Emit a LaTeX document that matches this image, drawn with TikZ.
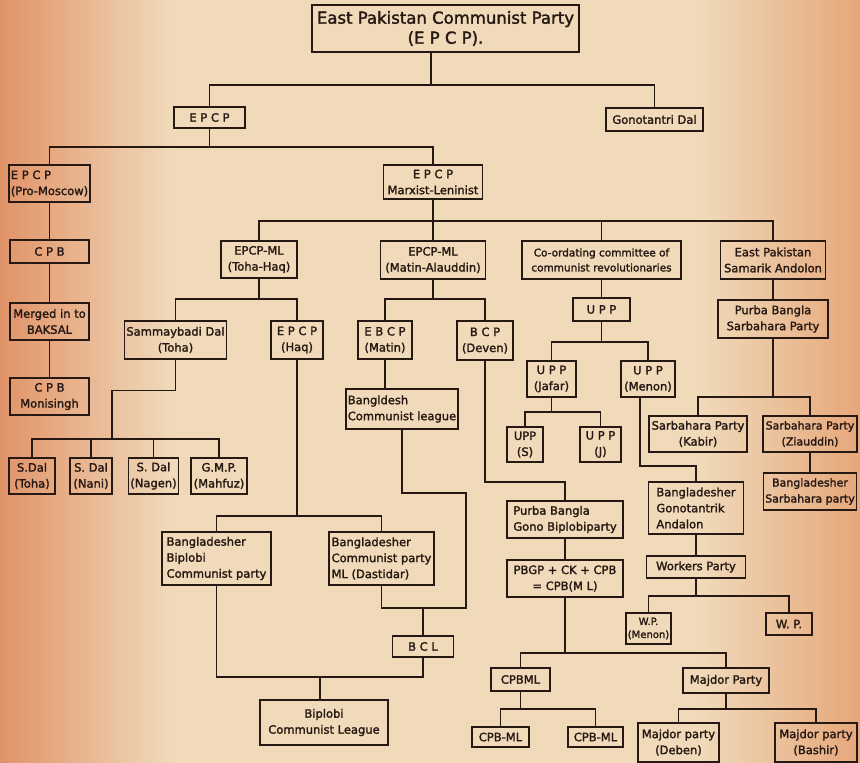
\documentclass[tikz,border=0pt]{standalone}
\usepackage{fontspec}
\setmainfont{DejaVu Sans}[BoldFont={DejaVu Sans}, BoldFeatures={FakeBold=1.8}]
\usepackage{tikz}
\definecolor{ink}{RGB}{38,24,18}
\definecolor{paperL}{RGB}{224,140,96}
\definecolor{paperM}{RGB}{240,218,186}
\definecolor{paperR}{RGB}{230,162,116}
\definecolor{paperBand}{RGB}{224,152,114}

\begin{document}
\begin{tikzpicture}[x=1pt, y=-1pt,
    party/.style={draw=ink, line width=1.4pt, text=ink, align=center, inner sep=2pt,
      font=\bfseries\fontsize{11.5}{16}\selectfont},
    link/.style={draw=ink, line width=1.4pt}]
    % PAPER
    \fill[paperM] (0,0) rectangle (860,763);
    \shade[top color=paperM, middle color=paperBand, bottom color=paperM, opacity=0.85] (0,270) rectangle (860,620);
    \shade[left color=paperL, right color=paperM, opacity=0.9] (0,0) rectangle (170,763);
    \shade[left color=paperM, right color=paperR, opacity=0.9] (700,0) rectangle (860,763);
    \useasboundingbox (0,0) rectangle (860,763);

    % TOP: the parent party and its first split
    \node[party, minimum width=267, minimum height=47, font=\bfseries\fontsize{16.5}{20}\selectfont] (epcpTop) at (445.5,28.5) {East Pakistan Communist Party\\(E P C P).};
    \node[party, minimum width=71, minimum height=21] (epcp) at (209.5,117.5) {E P C P};
    \node[party, minimum width=97, minimum height=23] (gono) at (654.5,119.5) {Gonotantri Dal};
    \node[party, minimum width=79, minimum height=37, align=left] (proMoscow) at (49.5,183.5) {E P C P\\(Pro-Moscow)};
    \node[party, minimum width=99, minimum height=34] (ml) at (433,182) {E P C P\\Marxist-Leninist};

    % LEFT: pro-Moscow line
    \node[party, minimum width=79, minimum height=23] (cpb) at (49.5,251.5) {C P B};
    \node[party, minimum width=79, minimum height=37] (baksal) at (49.5,321.5) {Merged in to\\BAKSAL};
    \node[party, minimum width=79, minimum height=37] (moni) at (49.5,396.5) {C P B\\Monisingh};

    % MIDDLE: Marxist-Leninist groups
    \node[party, minimum width=76, minimum height=37] (tohaHaq) at (259,259.5) {EPCP-ML\\(Toha-Haq)};
    \node[party, minimum width=105, minimum height=38] (matinAl) at (433,260) {EPCP-ML\\(Matin-Alauddin)};
    \node[party, minimum width=159, minimum height=38, font=\bfseries\fontsize{10.5}{15}\selectfont] (ccr) at (601.5,260) {Co-ordating committee of\\communist revolutionaries};
    \node[party, minimum width=105, minimum height=38] (samarik) at (773,260) {East Pakistan\\Samarik Andolon};

    \node[party, minimum width=101, minimum height=38] (samm) at (175.5,340) {Sammaybadi Dal\\(Toha)};
    \node[party, minimum width=52, minimum height=38] (haq) at (297,340) {E P C P\\(Haq)};
    \node[party, minimum width=54, minimum height=38] (ebcp) at (385,340) {E B C P\\(Matin)};
    \node[party, minimum width=56, minimum height=39] (bcp) at (485,340.5) {B C P\\(Deven)};
    \node[party, minimum width=57, minimum height=23] (upp) at (601.5,309.5) {U P P};
    \node[party, minimum width=110, minimum height=38] (pbsp) at (773,319) {Purba Bangla\\Sarbahara Party};

    \node[party, minimum width=49, minimum height=36] (jafar) at (551.5,379) {U P P\\(Jafar)};
    \node[party, minimum width=54, minimum height=36] (menon) at (648,379) {U P P\\(Menon)};
    \node[party, minimum width=110, minimum height=40, align=left] (bcLeague) at (402,409) {Bangldesh\\Communist league};
    \node[party, minimum width=98, minimum height=36] (kabir) at (698,434) {Sarbahara Party\\(Kabir)};
    \node[party, minimum width=94, minimum height=36, font=\bfseries\fontsize{11}{16}\selectfont] (zia) at (810,434) {Sarbahara Party\\(Ziauddin)};
    \node[party, minimum width=36, minimum height=35] (uppS) at (525,444.5) {UPP\\(S)};
    \node[party, minimum width=41, minimum height=35] (uppJ) at (600.5,444.5) {U P P\\(J)};

    % Samyabadi splits
    \node[party, minimum width=46, minimum height=36] (sdToha) at (32,476) {S.Dal\\(Toha)};
    \node[party, minimum width=42, minimum height=36] (sdNani) at (91,476) {S. Dal\\(Nani)};
    \node[party, minimum width=47, minimum height=36] (sdNagen) at (153.5,476) {S. Dal\\(Nagen)};
    \node[party, minimum width=56, minimum height=36] (gmp) at (219,476) {G.M.P.\\(Mahfuz)};

    % LOWER groups
    \node[party, minimum width=92, minimum height=37, font=\bfseries\fontsize{11}{16}\selectfont] (bsp) at (810,491.5) {Bangladesher\\Sarbahara party};
    \node[party, minimum width=95, minimum height=52, align=left] (bga) at (696,508) {Bangladesher\\Gonotantrik\\Andalon};
    \node[party, minimum width=116, minimum height=37, align=left] (pbg) at (565,519.5) {Purba Bangla\\Gono Biplobiparty};
    \node[party, minimum width=109, minimum height=53, align=left] (bbcp) at (216.5,558.5) {Bangladesher\\Biplobi\\Communist party};
    \node[party, minimum width=105, minimum height=53, align=left] (dast) at (381.5,558.5) {Bangladesher\\Communist party\\ML (Dastidar)};
    \node[party, minimum width=99, minimum height=22] (workers) at (696,567) {Workers Party};
    \node[party, minimum width=116, minimum height=37] (merger) at (565,578.5) {PBGP + CK + CPB\\= CPB(M L)};
    \node[party, minimum width=45, minimum height=31, font=\bfseries\fontsize{10}{13}\selectfont] (wpMenon) at (648.5,628.5) {W.P.\\(Menon)};
    \node[party, minimum width=46, minimum height=22] (wp) at (789,624) {W. P.};
    \node[party, minimum width=61, minimum height=21] (bcl) at (423,646.5) {B C L};
    \node[party, minimum width=59, minimum height=23] (cpbml) at (520.5,679.5) {CPBML};
    \node[party, minimum width=86, minimum height=25] (majdor) at (726,680.5) {Majdor Party};

    % BOTTOM row
    \node[party, minimum width=128, minimum height=45] (bicl) at (324,722.5) {Biplobi\\Communist League};
    \node[party, minimum width=57, minimum height=20] (cpbmlOne) at (500.5,737) {CPB-ML};
    \node[party, minimum width=55, minimum height=20] (cpbmlTwo) at (595.5,737) {CPB-ML};
    \node[party, minimum width=81, minimum height=39] (deben) at (678.5,742.5) {Majdor party\\(Deben)};
    \node[party, minimum width=82, minimum height=39] (bashir) at (816,742.5) {Majdor party\\(Bashir)};

    % CONNECTORS
    \coordinate (b1) at (431,85);
    \draw[link] (epcpTop.south -| b1) -- (b1);
    \draw[link] (epcp.north) |- (b1) -| (gono.north);

    \coordinate (b2) at (209.5,147);
    \draw[link] (epcp.south) -- (b2);
    \draw[link] (proMoscow.north) |- (b2) -| (ml.north);
    \draw[link] (proMoscow) -- (cpb) -- (baksal) -- (moni);

    \coordinate (b3) at (433,221);
    \draw[link] (ml) -- (matinAl);
    \draw[link] (tohaHaq.north) |- (b3) -| (samarik.north);
    \draw[link] (b3) -| (ccr.north);

    \coordinate (b4) at (259,299);
    \draw[link] (tohaHaq.south) -- (b4);
    \draw[link] (samm.north) |- (b4) -| (haq.north);

    \coordinate (b5) at (112,439);
    \draw[link] (samm.south) -- ++(0,31) -| (b5);
    \draw[link] (sdToha.north) |- (b5) -| (gmp.north);
    \draw[link] (sdNani.north) -- (sdNani.north |- b5);
    \draw[link] (sdNagen.north) -- (sdNagen.north |- b5);

    \coordinate (b6) at (297,516);
    \draw[link] (haq.south) -- (b6);
    \draw[link] (bbcp.north) |- (b6) -| (dast.north);

    \coordinate (b7) at (433,299);
    \draw[link] (matinAl.south) -- (b7);
    \draw[link] (ebcp.north) |- (b7) -| (bcp.north);
    \draw[link] (ebcp.south) -- (ebcp.south |- bcLeague.north);

    \coordinate (k1) at (466,493);
    \coordinate (b8) at (423,608);
    \draw[link] (bcLeague.south) |- (k1) |- (b8);
    \draw[link] (dast.south) |- (b8) -- (bcl.north);

    \coordinate (b9) at (320,677);
    \draw[link] (bbcp.south) |- (b9);
    \draw[link] (bcl.south) |- (b9);
    \draw[link] (b9) -- (b9 |- bicl.north);

    \coordinate (k2) at (565,482);
    \draw[link] (bcp.south) |- (k2) -- (pbg.north);
    \draw[link] (pbg) -- (merger);

    \coordinate (b10) at (565,653);
    \draw[link] (merger.south) -- (b10);
    \draw[link] (cpbml.north) |- (b10) -| (majdor.north);
    \coordinate (b11) at (520.5,709);
    \draw[link] (cpbml.south) -- (b11);
    \draw[link] (cpbmlOne.north) |- (b11) -| (cpbmlTwo.north);
    \coordinate (b12) at (726,709);
    \draw[link] (majdor.south) -- (b12);
    \draw[link] (deben.north) |- (b12) -| (bashir.north);

    \draw[link] (ccr) -- (upp);
    \coordinate (b13) at (601.5,342);
    \draw[link] (upp.south) -- (b13);
    \draw[link] (jafar.north) |- (b13) -| (menon.north);
    \coordinate (b14) at (551.5,412);
    \draw[link] (jafar.south) -- (b14);
    \draw[link] (uppS.north) |- (b14) -| (uppJ.north);

    \coordinate (k3) at (696,466);
    \draw[link] ([xshift=-8pt]menon.south) |- (k3) -- (bga.north);
    \draw[link] (bga) -- (workers);
    \coordinate (b15) at (696,596);
    \draw[link] (workers.south) -- (b15);
    \draw[link] (wpMenon.north) |- (b15) -| (wp.north);

    \draw[link] (samarik) -- (pbsp);
    \coordinate (b16) at (773,397);
    \draw[link] (pbsp.south) -- (b16);
    \draw[link] (kabir.north) |- (b16) -| (zia.north);
    \draw[link] (zia) -- (bsp);
\end{tikzpicture}
\end{document}
